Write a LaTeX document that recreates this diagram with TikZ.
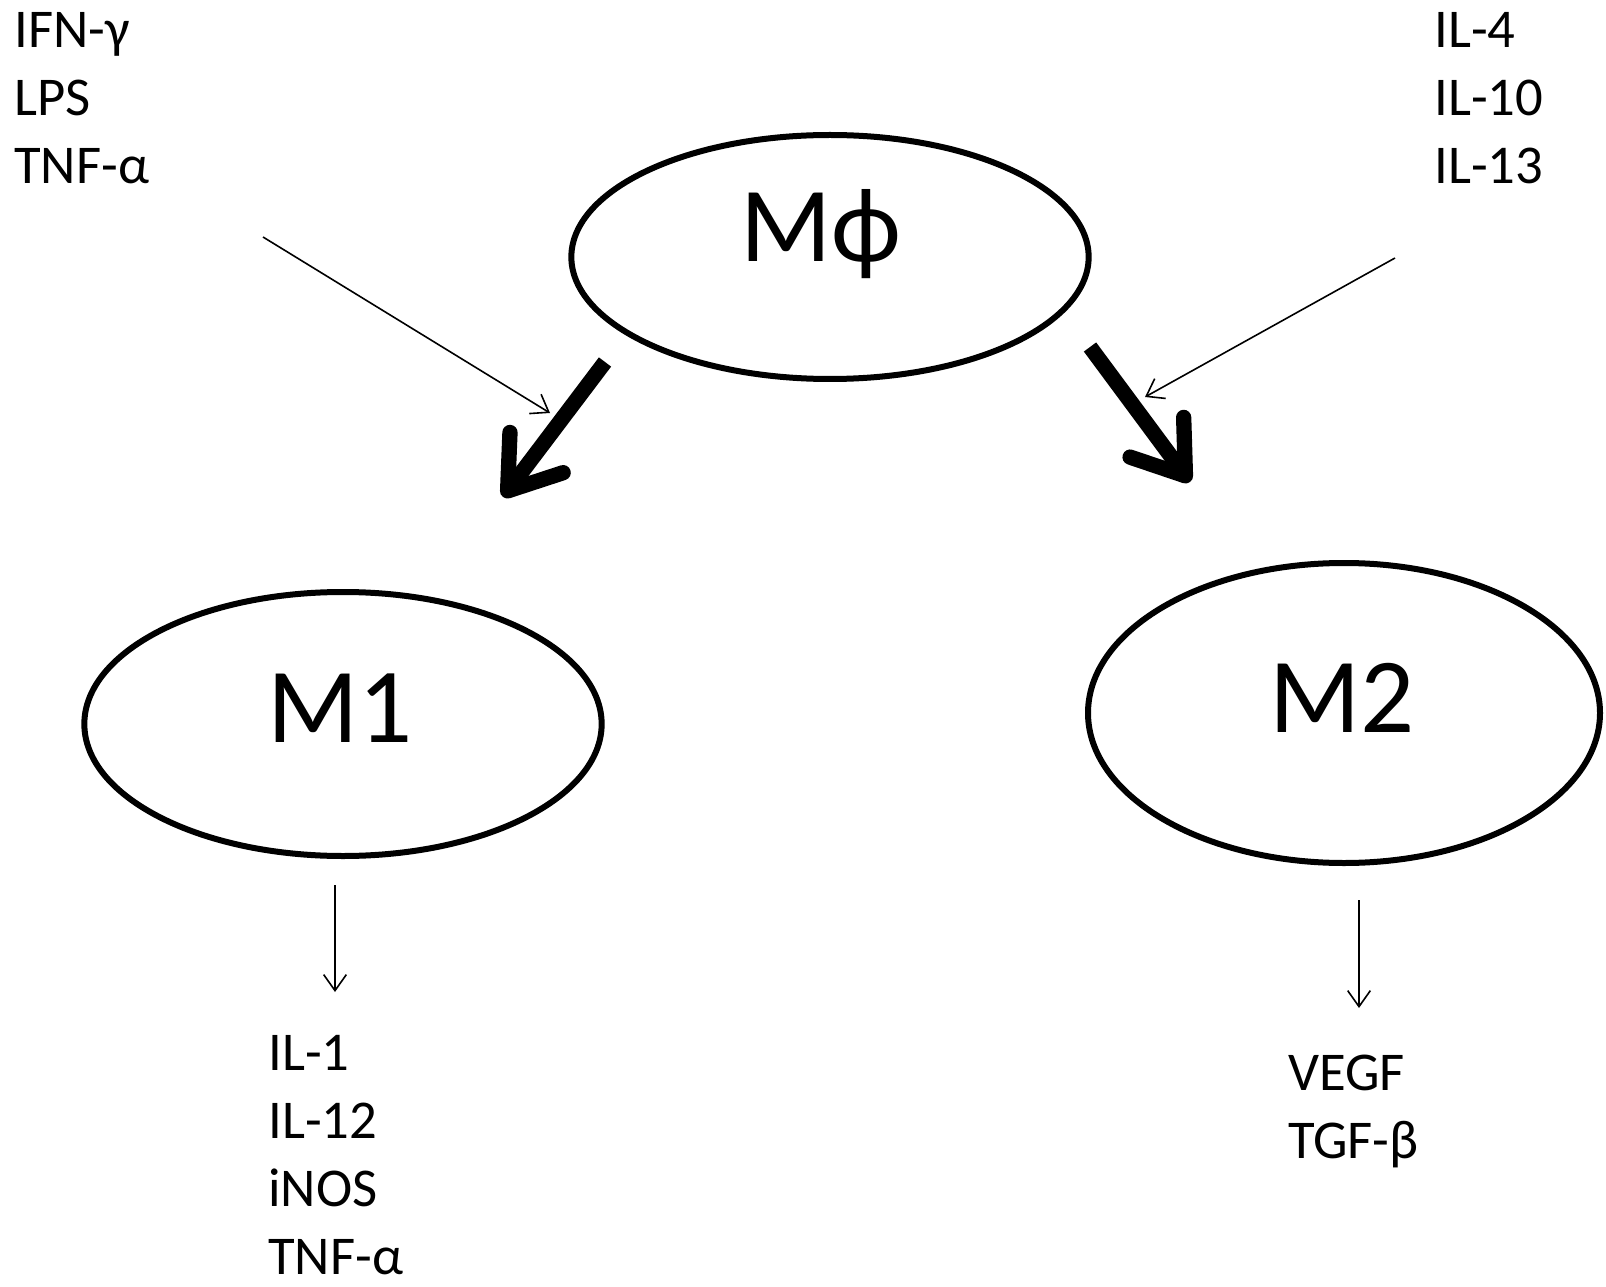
\documentclass[tikz,border=0pt]{standalone}
\usepackage{fontspec}
\setmainfont{Carlito}
\usetikzlibrary{arrows.meta,shapes.geometric}

\tikzset{
  cell/.style={draw, ellipse, line width=4.5pt, inner sep=0pt},
  big/.style={anchor=base, inner sep=0pt, font=\fontsize{80}{96}\selectfont},
  cytokines/.style={anchor=base west, align=left, inner sep=0pt, font=\fontsize{41}{51}\selectfont},
  fat/.style={line width=11.5pt, -{Straight Barb[length=36pt,width=50pt,round]}},
  signal/.style={line width=1.2pt, -{Straight Barb[length=12pt,width=17pt]}}
}

\begin{document}
\begin{tikzpicture}[x=0.75pt, y=-0.75pt]
  \useasboundingbox (0,0) rectangle (1606,1287);

  % the three cells
  \node[cell, minimum width=388pt, minimum height=183pt] (mphi) at (830,257) {};
  \node[cell, minimum width=388pt, minimum height=198pt] (m1) at (343,724) {};
  \node[cell, minimum width=384pt, minimum height=225pt] (m2) at (1344,713) {};
  \node[big] (mphitext) at (821,262) {Mϕ};
  \node[big] (m1text) at (340,742) {M1};
  \node[big] (m2text) at (1342,732) {M2};

  % stimuli and products (anchored at the last line)
  \node[cytokines] (stim1) at (14,184) {IFN-γ\\LPS\\TNF-α};
  \node[cytokines] (stim2) at (1434,184) {IL-4\\IL-10\\IL-13};
  \node[cytokines] (prod1) at (268,1274) {IL-1\\IL-12\\iNOS\\TNF-α};
  \node[cytokines] (prod2) at (1288,1158) {VEGF\\TGF-β};

  % polarisation
  \coordinate (p1s) at (605,362);
  \coordinate (p1e) at (503,497);
  \coordinate (p2s) at (1090,347);
  \coordinate (p2e) at (1190,482);
  \draw[fat] (p1s) -- (p1e);
  \draw[fat] (p2s) -- (p2e);

  \coordinate (s1s) at (263,237);
  \coordinate (s1e) at (550,413);
  \coordinate (s2s) at (1395,258);
  \coordinate (s2e) at (1145,397);
  \draw[signal] (s1s) -- (s1e);
  \draw[signal] (s2s) -- (s2e);

  \coordinate (o1s) at (335,885);
  \coordinate (o1e) at (335,992);
  \coordinate (o2s) at (1359,900);
  \coordinate (o2e) at (1359,1008);
  \draw[signal] (o1s) -- (o1e);
  \draw[signal] (o2s) -- (o2e);
\end{tikzpicture}
\end{document}
